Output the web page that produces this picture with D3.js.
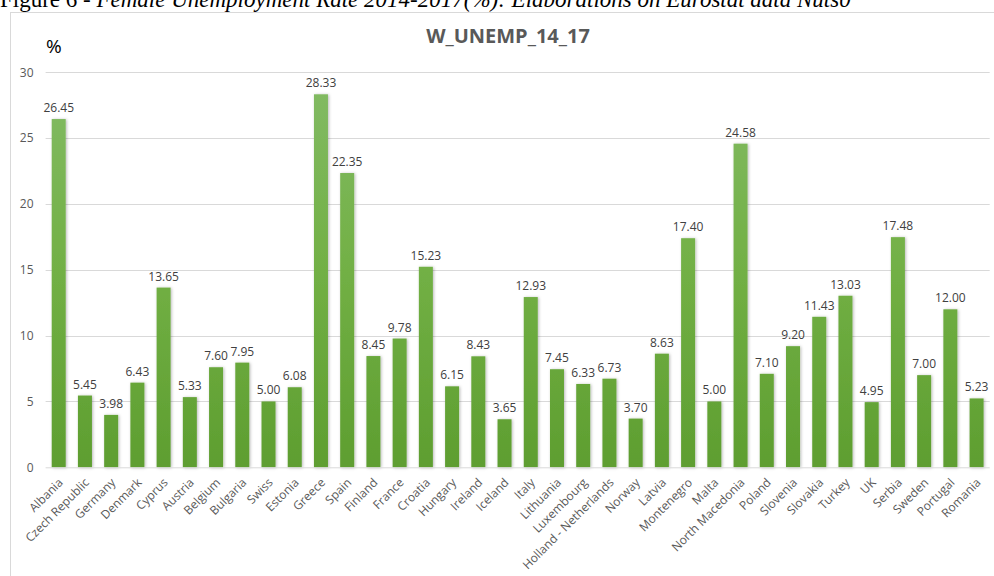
<!DOCTYPE html>
<html>
<head>
<meta charset="utf-8">
<script src="https://cdn.jsdelivr.net/npm/d3@7"></script>
<style>
  html, body { margin: 0; padding: 0; background: #fff; }
  svg { display: block; }
</style>
</head>
<body>
<svg id="chart" width="994" height="576"></svg>
<script>
// Female unemployment rate 2014-2017 (%) by country
const countries = [
  "Albania", "Czech Republic", "Germany", "Denmark", "Cyprus", "Austria",
  "Belgium", "Bulgaria", "Swiss", "Estonia", "Greece", "Spain", "Finland",
  "France", "Croatia", "Hungary", "Ireland", "Iceland", "Italy", "Lithuania",
  "Luxembourg", "Holland - Netherlands", "Norway", "Latvia", "Montenegro",
  "Malta", "North Macedonia", "Poland", "Slovenia", "Slovakia", "Turkey",
  "UK", "Serbia", "Sweden", "Portugal", "Romania"
];
const values = [
  26.45, 5.45, 3.98, 6.43, 13.65, 5.33,
  7.60, 7.95, 5.00, 6.08, 28.33, 22.35, 8.45,
  9.78, 15.23, 6.15, 8.43, 3.65, 12.93, 7.45,
  6.33, 6.73, 3.70, 8.63, 17.40,
  5.00, 24.58, 7.10, 9.20, 11.43, 13.03,
  4.95, 17.48, 7.00, 12.00, 5.23
];
const yTicks = [0, 5, 10, 15, 20, 25, 30];

const data = countries.map((c, i) => ({ country: c, value: values[i] }));

const svg = d3.select("#chart");
const font = "'Open Sans', 'DejaVu Sans', sans-serif";

const plot = { left: 45.6, right: 989.7, top: 72.3, bottom: 467.3 };

const x = d3.scaleBand()
  .domain(countries)
  .range([plot.left, plot.right])
  .paddingInner(0.466)
  .paddingOuter(0.233);

const y = d3.scaleLinear()
  .domain([0, 30])
  .range([plot.bottom, plot.top]);

// Defs: bar gradient and soft shadow
const defs = svg.append("defs");
const grad = defs.append("linearGradient")
  .attr("id", "barGrad")
  .attr("gradientUnits", "userSpaceOnUse")
  .attr("x1", 0).attr("x2", 0)
  .attr("y1", y(30)).attr("y2", y(0));
grad.append("stop").attr("offset", "0%").attr("stop-color", "#83bb65");
grad.append("stop").attr("offset", "50%").attr("stop-color", "#72b045");
grad.append("stop").attr("offset", "100%").attr("stop-color", "#5e9e30");

const shadow = defs.append("filter")
  .attr("id", "barShadow")
  .attr("x", "-50%").attr("y", "-10%")
  .attr("width", "200%").attr("height", "120%");
shadow.append("feDropShadow")
  .attr("dx", 1).attr("dy", 0.5)
  .attr("stdDeviation", 1.6)
  .attr("flood-color", "#000")
  .attr("flood-opacity", 0.28);

// Caption above the chart frame
const cap = svg.append("text")
  .attr("x", 0)
  .attr("y", 7)
  .attr("font-family", "'Liberation Serif', 'Times New Roman', serif")
  .attr("font-size", 23)
  .attr("fill", "#000");
cap.append("tspan").text("Figure 6 - ");
cap.append("tspan").attr("font-style", "italic")
  .text("Female Unemployment Rate 2014-2017(%): Elaborations on Eurostat data Nuts0");

// Chart frame
svg.append("line")
  .attr("x1", 10).attr("x2", 994)
  .attr("y1", 12.5).attr("y2", 12.5)
  .attr("stroke", "#d9d9d9").attr("stroke-width", 1);
svg.append("line")
  .attr("x1", 10.5).attr("x2", 10.5)
  .attr("y1", 12).attr("y2", 576)
  .attr("stroke", "#d9d9d9").attr("stroke-width", 1);

// Gridlines
svg.append("g")
  .selectAll("line")
  .data(yTicks.filter(t => t > 0))
  .join("line")
  .attr("x1", plot.left).attr("x2", plot.right)
  .attr("y1", d => Math.round(y(d)) + 0.5)
  .attr("y2", d => Math.round(y(d)) + 0.5)
  .attr("stroke", "#d9d9d9").attr("stroke-width", 1);

// Y axis labels
const yAxis = d3.axisLeft(y).tickValues(yTicks).tickSize(0).tickPadding(12);
const gy = svg.append("g")
  .attr("transform", `translate(${plot.left},0)`)
  .call(yAxis);
gy.select(".domain").remove();
gy.selectAll("text")
  .attr("font-family", font)
  .attr("font-size", 12)
  .attr("fill", "#595959");

// Bars
svg.append("g")
  .selectAll("rect")
  .data(data)
  .join("rect")
  .attr("x", d => x(d.country))
  .attr("y", d => y(d.value))
  .attr("width", x.bandwidth())
  .attr("height", d => y(0) - y(d.value))
  .attr("fill", "url(#barGrad)")
  .attr("filter", "url(#barShadow)");

// X axis baseline and category labels
const xAxis = d3.axisBottom(x).tickSize(0).tickPadding(0);
const gx = svg.append("g")
  .attr("transform", `translate(0,${plot.bottom})`)
  .call(xAxis);
gx.select(".domain")
  .attr("stroke", "#d9d9d9")
  .attr("d", `M${plot.left},0.5H${plot.right}`);
gx.selectAll(".tick text")
  .attr("font-family", font)
  .attr("font-size", 12)
  .attr("fill", "#595959")
  .attr("text-anchor", "end")
  .attr("dy", 0)
  .attr("y", 0)
  .attr("transform", "translate(5,16) rotate(-45)");

// Value labels
svg.append("g")
  .selectAll("text")
  .data(data)
  .join("text")
  .attr("x", d => x(d.country) + x.bandwidth() / 2)
  .attr("y", d => y(d.value) - 7)
  .attr("text-anchor", "middle")
  .attr("font-family", font)
  .attr("font-size", 12)
  .attr("fill", "#404040")
  .text(d => d.value.toFixed(2));

// Title and unit label
svg.append("text")
  .attr("x", 508)
  .attr("y", 43)
  .attr("text-anchor", "middle")
  .attr("font-family", font)
  .attr("font-size", 20)
  .attr("font-weight", "bold")
  .attr("fill", "#595959")
  .text("W_UNEMP_14_17");

svg.append("text")
  .attr("x", 46)
  .attr("y", 53)
  .attr("font-family", font)
  .attr("font-size", 19)
  .attr("fill", "#000")
  .text("%");
</script>
</body>
</html>
